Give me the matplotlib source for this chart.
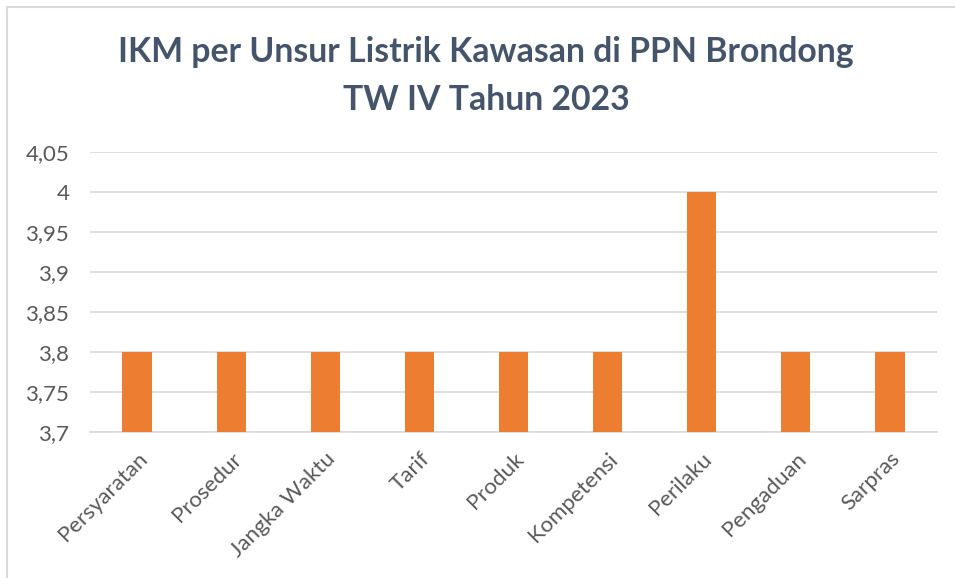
import matplotlib
matplotlib.use("Agg")
import matplotlib.pyplot as plt
from matplotlib.lines import Line2D

categories = ["Persyaratan", "Prosedur", "Jangka Waktu", "Tarif", "Produk",
              "Kompetensi", "Perilaku", "Pengaduan", "Sarpras"]
values = [3.8, 3.8, 3.8, 3.8, 3.8, 3.8, 4.0, 3.8, 3.8]
yticks = [3.7, 3.75, 3.8, 3.85, 3.9, 3.95, 4.0, 4.05]
ytick_labels = ["3,7", "3,75", "3,8", "3,85", "3,9", "3,95", "4", "4,05"]
title = "IKM per Unsur Listrik Kawasan di PPN Brondong\nTW IV Tahun 2023"

plt.rcParams['font.family'] = ['Lato', 'DejaVu Sans']

W, H = 955, 578
fig = plt.figure(figsize=(W/100, H/100), dpi=100)
ax = fig.add_axes([90/W, 1-432/H, (937-90)/W, (432-152)/H])

x = list(range(len(categories)))
ax.bar(x, values, width=0.31, color="#ED7D31", zorder=3)
ax.set_xlim(-0.5, len(categories)-0.5)
ax.set_ylim(3.7, 4.05)
ax.set_yticks(yticks)
ax.set_yticklabels(ytick_labels)
ax.set_xticks(x)
ax.set_xticklabels(categories, rotation=45, ha='right', rotation_mode='anchor')
ax.tick_params(axis='both', length=0, colors="#595959", labelsize=16)
ax.tick_params(axis='y', pad=15)
ax.tick_params(axis='x', pad=12)
ax.grid(axis='y', color="#D9D9D9", linewidth=1.2, zorder=0)
for s in ["top", "right", "left"]:
    ax.spines[s].set_visible(False)
ax.spines["bottom"].set_color("#D9D9D9")
ax.spines["bottom"].set_linewidth(1.2)

fig.text(486/W, 1-76/H, title, ha='center', va='center', fontsize=24.3,
         fontweight='bold', color="#44546A", linespacing=1.6)

fig.add_artist(Line2D([7/W, 7/W], [0, 1-7/H], transform=fig.transFigure,
                      color="#D9D9D9", linewidth=1.5))
fig.add_artist(Line2D([7/W, 1], [1-7/H, 1-7/H], transform=fig.transFigure,
                      color="#D9D9D9", linewidth=1.5))

fig.savefig("out.png", dpi=100, facecolor="white")
